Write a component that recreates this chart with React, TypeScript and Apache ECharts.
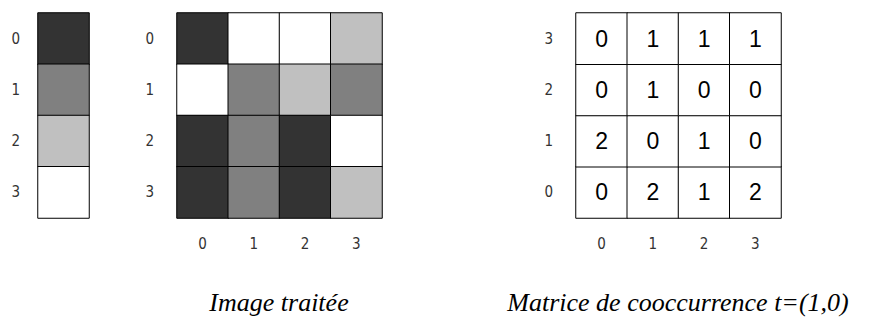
import React, { useEffect, useRef } from "react";
import * as echarts from "echarts";

const axisLabels = ["0", "1", "2", "3"];
const grayLevels = [0, 1, 2, 3];
const grayColors = ["#333333", "#808080", "#c0c0c0", "#ffffff"];
// processed image, rows top to bottom (row 0..3), columns 0..3
const imageRows = [
  [0, 3, 3, 2],
  [3, 1, 2, 1],
  [0, 1, 0, 3],
  [0, 1, 0, 2],
];
// co-occurrence matrix, indexed by y (0 bottom .. 3 top), columns 0..3
const coocRows = [
  [0, 2, 1, 2],
  [2, 0, 1, 0],
  [0, 1, 0, 0],
  [0, 1, 1, 1],
];
const captionImage = "Image traitée";
const captionMatrix = "Matrice de cooccurrence t=(1,0)";

const labelFont = "'Liberation Sans Narrow', 'DejaVu Sans Condensed', 'Liberation Sans', sans-serif";

export default function App() {
  const ref = useRef<HTMLDivElement>(null);
  useEffect(() => {
    if (!ref.current) return;
    const chart = echarts.init(ref.current, undefined, { renderer: "svg" });

    const axisCommon = {
      type: "category" as const,
      axisLine: { show: false },
      axisTick: { show: false },
      splitLine: { show: false },
      splitArea: { show: false },
    };
    const lab = (margin: number) => ({
      margin,
      fontSize: 15,
      color: "#333",
      fontFamily: labelFont,
    });

    const stripData = grayLevels.map((v, i) => [0, i, v]);
    const imageData: number[][] = [];
    imageRows.forEach((row, r) => row.forEach((v, c) => imageData.push([c, r, v])));
    const coocData: number[][] = [];
    coocRows.forEach((row, y) => row.forEach((v, x) => coocData.push([x, y, v])));

    const cellStyle = { borderColor: "#000", borderWidth: 1 };

    chart.setOption({
      animation: false,
      visualMap: [
        {
          type: "piecewise",
          show: false,
          seriesIndex: [0, 1],
          dimension: 2,
          pieces: grayLevels.map((v) => ({ value: v, color: grayColors[v] })),
        },
        {
          type: "piecewise",
          show: false,
          seriesIndex: [2],
          dimension: 2,
          pieces: [{ min: -1, max: 100, color: "#ffffff" }],
        },
      ],
      grid: [
        { left: 38, top: 13, width: 51, height: 205 },
        { left: 177, top: 13, width: 205, height: 205 },
        { left: 576, top: 13, width: 205, height: 205 },
      ],
      xAxis: [
        { ...axisCommon, gridIndex: 0, data: ["0"], axisLabel: { show: false } },
        { ...axisCommon, gridIndex: 1, data: axisLabels, axisLabel: lab(18) },
        { ...axisCommon, gridIndex: 2, data: axisLabels, axisLabel: lab(18) },
      ],
      yAxis: [
        { ...axisCommon, gridIndex: 0, data: axisLabels, inverse: true, axisLabel: lab(18) },
        { ...axisCommon, gridIndex: 1, data: axisLabels, inverse: true, axisLabel: lab(23) },
        { ...axisCommon, gridIndex: 2, data: axisLabels, axisLabel: lab(23) },
      ],
      series: [
        {
          type: "heatmap",
          xAxisIndex: 0,
          yAxisIndex: 0,
          data: stripData,
          itemStyle: cellStyle,
          emphasis: { disabled: true },
        },
        {
          type: "heatmap",
          xAxisIndex: 1,
          yAxisIndex: 1,
          data: imageData,
          itemStyle: cellStyle,
          emphasis: { disabled: true },
        },
        {
          type: "heatmap",
          xAxisIndex: 2,
          yAxisIndex: 2,
          data: coocData,
          itemStyle: cellStyle,
          emphasis: { disabled: true },
          label: {
            show: true,
            formatter: (p: any) => String(p.value[2]),
            fontSize: 23,
            color: "#000",
            fontFamily: "'Liberation Sans', Arial, sans-serif",
          },
        },
      ],
      graphic: [
        {
          type: "text",
          x: 279,
          y: 302,
          style: {
            text: captionImage,
            fontSize: 26,
            fontStyle: "italic",
            fontFamily: "'Liberation Serif', 'Times New Roman', serif",
            fill: "#000",
            align: "center",
            verticalAlign: "middle",
          },
        },
        {
          type: "text",
          x: 678,
          y: 302,
          style: {
            text: captionMatrix,
            fontSize: 26,
            fontStyle: "italic",
            fontFamily: "'Liberation Serif', 'Times New Roman', serif",
            fill: "#000",
            align: "center",
            verticalAlign: "middle",
          },
        },
      ],
    });
    return () => chart.dispose();
  }, []);
  return (
    <div
      ref={ref}
      style={{ position: "absolute", left: 0, top: 0, width: 872, height: 318, background: "#fff" }}
    />
  );
}
